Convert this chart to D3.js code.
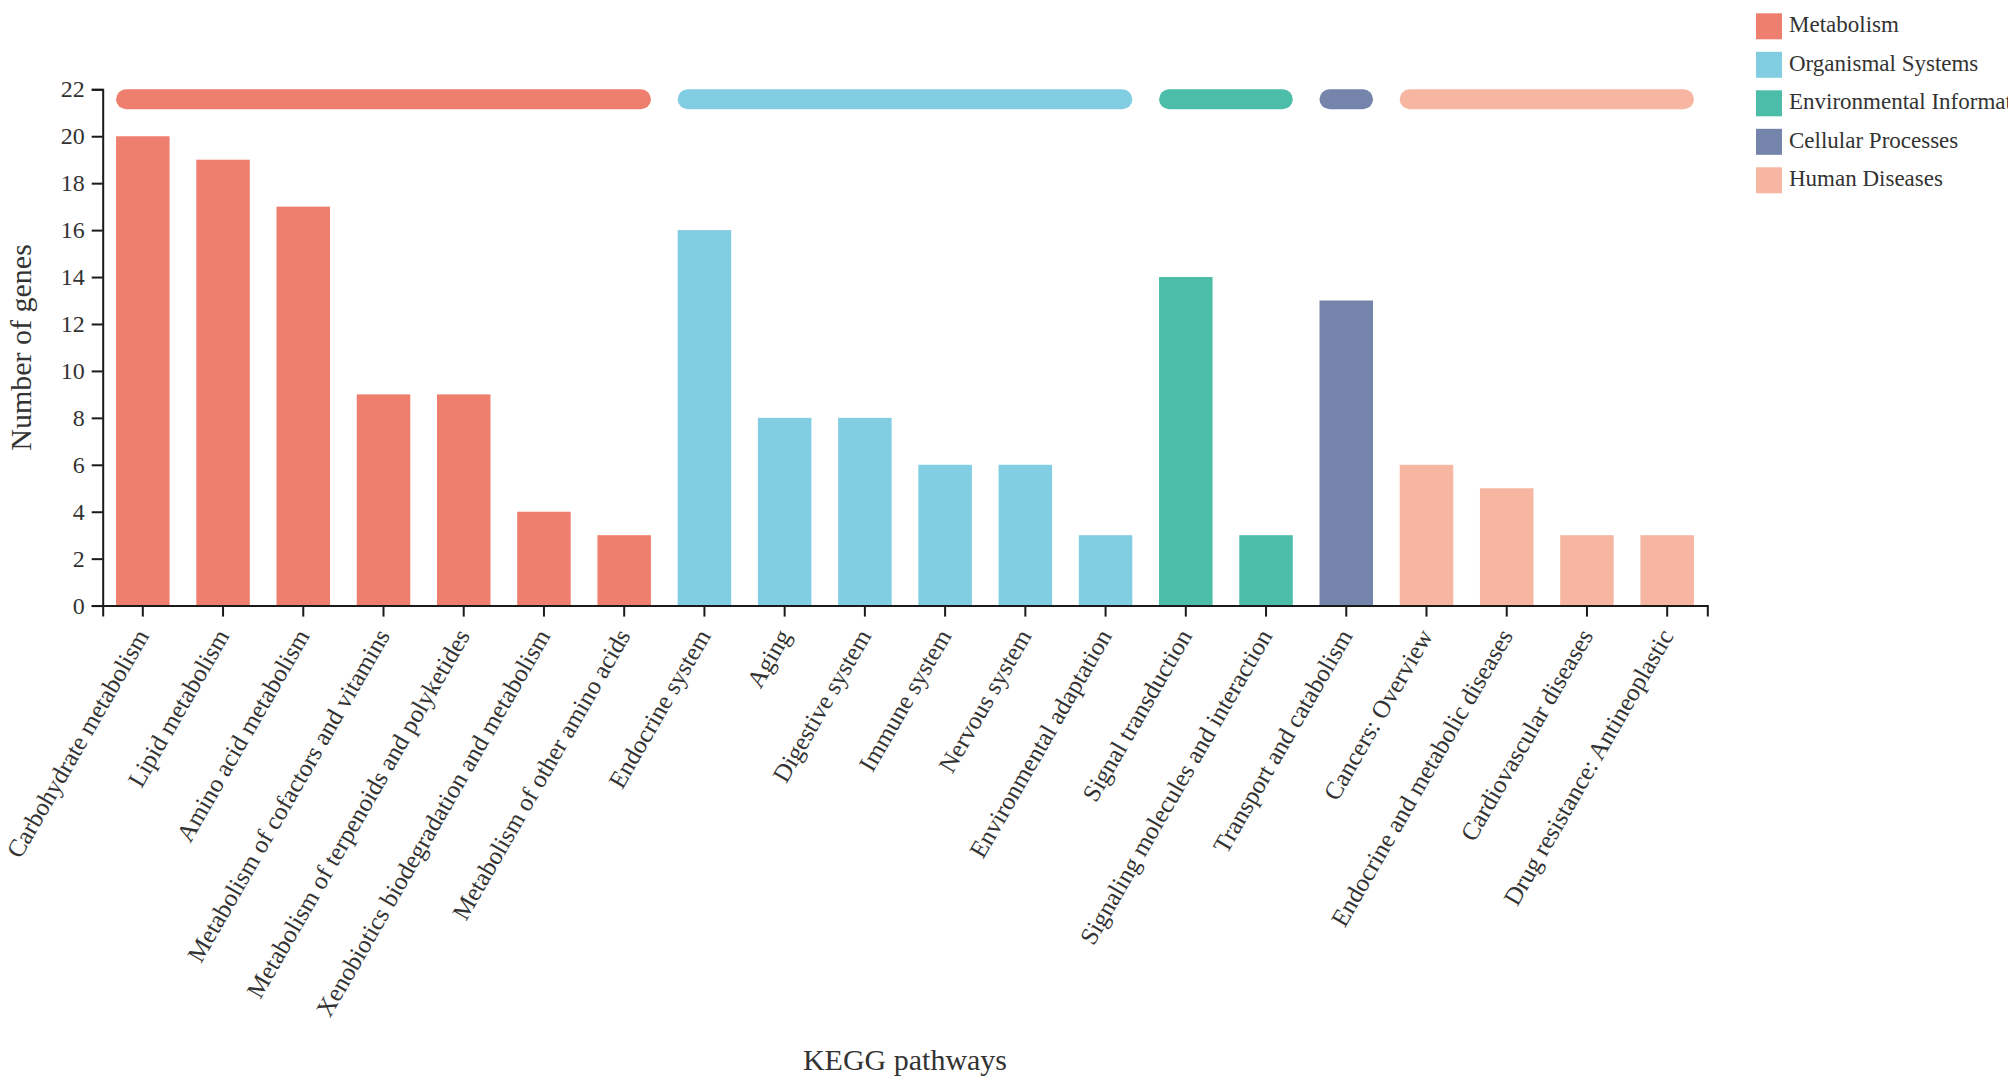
<!DOCTYPE html>
<html>
<head>
<meta charset="utf-8">
<script src="https://cdn.jsdelivr.net/npm/d3@7"></script>
<style>
  html, body { margin: 0; padding: 0; background: #fff; }
  svg { display: block; font-family: "Liberation Serif", "Times New Roman", serif; }
</style>
</head>
<body>
<script>
const categories = [
  "Carbohydrate metabolism",
  "Lipid metabolism",
  "Amino acid metabolism",
  "Metabolism of cofactors and vitamins",
  "Metabolism of terpenoids and polyketides",
  "Xenobiotics biodegradation and metabolism",
  "Metabolism of other amino acids",
  "Endocrine system",
  "Aging",
  "Digestive system",
  "Immune system",
  "Nervous system",
  "Environmental adaptation",
  "Signal transduction",
  "Signaling molecules and interaction",
  "Transport and catabolism",
  "Cancers: Overview",
  "Endocrine and metabolic diseases",
  "Cardiovascular diseases",
  "Drug resistance: Antineoplastic"
];
const values = [20, 19, 17, 9, 9, 4, 3, 16, 8, 8, 6, 6, 3, 14, 3, 13, 6, 5, 3, 3];
const categoryGroups = [
  "Metabolism", "Metabolism", "Metabolism", "Metabolism", "Metabolism", "Metabolism", "Metabolism",
  "Organismal Systems", "Organismal Systems", "Organismal Systems", "Organismal Systems", "Organismal Systems", "Organismal Systems",
  "Environmental Information Processing", "Environmental Information Processing",
  "Cellular Processes",
  "Human Diseases", "Human Diseases", "Human Diseases", "Human Diseases"
];
const groupNames = ["Metabolism", "Organismal Systems", "Environmental Information Processing", "Cellular Processes", "Human Diseases"];
const groupColors = ["#ee7f6f", "#81cde1", "#4bbda8", "#7584ab", "#f6b6a1"];
const yTicks = [0, 2, 4, 6, 8, 10, 12, 14, 16, 18, 20, 22];

const W = 2008, H = 1086;
const svg = d3.select("body").append("svg").attr("width", W).attr("height", H);

const color = d3.scaleOrdinal().domain(groupNames).range(groupColors);
const x = d3.scaleBand().domain(categories).range([102.7, 1707.3]).paddingInner(0.333).paddingOuter(0.1665);
const y = d3.scaleLinear().domain([0, 22]).range([605.6, 89.3]);

const data = categories.map((c, i) => ({ name: c, value: values[i], group: categoryGroups[i] }));

// bars
svg.append("g").selectAll("rect").data(data).enter().append("rect")
  .attr("x", d => x(d.name))
  .attr("y", d => y(d.value))
  .attr("width", x.bandwidth())
  .attr("height", d => y(0) - y(d.value))
  .attr("fill", d => color(d.group));

// group bars on top
const groupSpans = groupNames.map(g => {
  const members = data.filter(d => d.group === g);
  return { group: g, first: members[0].name, last: members[members.length - 1].name };
});
svg.append("g").selectAll("rect").data(groupSpans).enter().append("rect")
  .attr("x", d => x(d.first))
  .attr("y", y(22))
  .attr("width", d => x(d.last) + x.bandwidth() - x(d.first))
  .attr("height", 20)
  .attr("rx", 10).attr("ry", 10)
  .attr("fill", d => color(d.group));

// axes
const axisColor = "#1a1a1a";
const textColor = "#333333";

const xAxis = svg.append("g")
  .attr("transform", `translate(0,${y(0)})`)
  .call(d3.axisBottom(x).tickSize(11).tickSizeOuter(11));
xAxis.selectAll("path, line").attr("stroke", axisColor).attr("stroke-width", 2);
xAxis.selectAll("text")
  .attr("x", 0).attr("y", 0).attr("dy", 0)
  .attr("transform", "translate(7,30) rotate(-60)")
  .attr("text-anchor", "end")
  .attr("fill", textColor)
  .style("font-family", "'Liberation Serif', 'Times New Roman', serif")
  .style("font-size", "25px");

const yAxis = svg.append("g")
  .attr("transform", `translate(${x.range()[0]},0)`)
  .call(d3.axisLeft(y).tickValues(yTicks).tickSize(11).tickSizeOuter(11).tickPadding(7));
yAxis.selectAll("path, line").attr("stroke", axisColor).attr("stroke-width", 2);
yAxis.selectAll("text")
  .attr("fill", textColor)
  .style("font-family", "'Liberation Serif', 'Times New Roman', serif")
  .style("font-size", "24px");

// axis titles
svg.append("text")
  .attr("x", 905).attr("y", 1070)
  .attr("text-anchor", "middle")
  .attr("fill", textColor)
  .style("font-size", "30px")
  .text("KEGG pathways");

svg.append("text")
  .attr("transform", `translate(31,${(y(0) + y(22)) / 2}) rotate(-90)`)
  .attr("text-anchor", "middle")
  .attr("fill", textColor)
  .style("font-size", "30px")
  .text("Number of genes");

// legend
const legend = svg.append("g").selectAll("g").data(groupNames).enter().append("g")
  .attr("transform", (d, i) => `translate(1756,${13.3 + i * 38.5})`);
legend.append("rect").attr("width", 26).attr("height", 26).attr("fill", d => color(d));
legend.append("text")
  .attr("x", 33).attr("y", 19)
  .attr("fill", textColor)
  .style("font-size", "23px")
  .text(d => d);
</script>
</body>
</html>
